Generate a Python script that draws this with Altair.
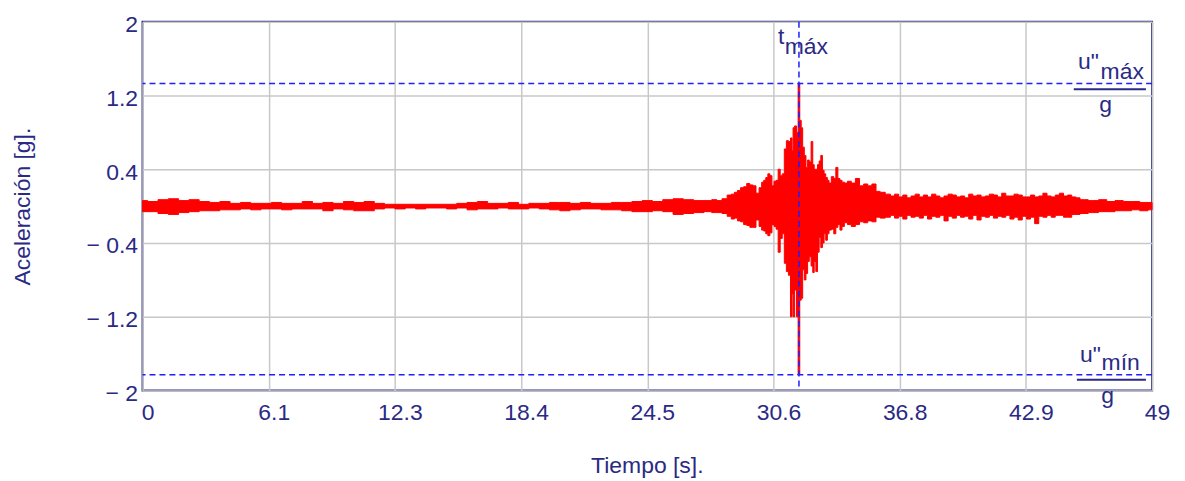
import altair as alt
import pandas as pd

# ---------------- data ----------------
# time [s] of envelope samples, upper and lower acceleration [g]
t_quiet = [0, 0.5, 1.0, 1.5, 2.0, 2.5, 3.0, 3.5, 4.0, 4.5, 5.0, 5.5, 6.0, 6.5, 7.0, 7.5, 8.0, 8.5, 9.0, 9.5,
           10.0, 10.5, 11.0, 11.5, 12.0, 12.5, 13.0, 13.5, 14.0, 14.5, 15.0, 15.5, 16.0, 16.5, 17.0, 17.5, 18.0, 18.5, 19.0, 19.5,
           20.0, 20.5, 21.0, 21.5, 22.0, 22.5, 23.0, 23.5, 24.0, 24.5, 25.0, 25.5, 26.0, 26.5, 27.0]
hi_quiet = [0.06, 0.05, 0.07, 0.08, 0.06, 0.07, 0.05, 0.04, 0.05, 0.03, 0.04, 0.03, 0.03, 0.04, 0.03, 0.03, 0.05, 0.03, 0.04, 0.03,
            0.05, 0.04, 0.05, 0.03, 0.02, 0.02, 0.02, 0.02, 0.02, 0.02, 0.02, 0.03, 0.04, 0.05, 0.03, 0.03, 0.04, 0.02, 0.03, 0.03,
            0.04, 0.04, 0.03, 0.04, 0.03, 0.03, 0.04, 0.04, 0.05, 0.06, 0.05, 0.07, 0.08, 0.07, 0.06]
lo_quiet = [-0.06, -0.06, -0.08, -0.09, -0.07, -0.06, -0.05, -0.05, -0.04, -0.04, -0.03, -0.04, -0.03, -0.03, -0.04, -0.03, -0.03, -0.03, -0.05, -0.03,
            -0.04, -0.05, -0.05, -0.03, -0.02, -0.03, -0.02, -0.03, -0.02, -0.02, -0.03, -0.02, -0.04, -0.03, -0.03, -0.02, -0.03, -0.03, -0.02, -0.03,
            -0.04, -0.05, -0.04, -0.03, -0.03, -0.04, -0.04, -0.05, -0.06, -0.06, -0.05, -0.06, -0.09, -0.08, -0.07]

t_strong = [27.5, 27.75, 28.0, 28.25, 28.5, 28.65, 28.8, 28.95, 29.1, 29.25, 29.4, 29.55, 29.7, 29.85,
            30.0, 30.1, 30.2, 30.3, 30.4, 30.5, 30.6, 30.7, 30.8, 30.9, 31.0, 31.1, 31.2, 31.3, 31.4, 31.5,
            31.55, 31.6, 31.7, 31.78, 31.86, 31.94, 32.0, 32.08, 32.16, 32.24, 32.32, 32.4, 32.5, 32.56, 32.64,
            32.72, 32.8, 32.88, 32.96, 33.04, 33.12, 33.2, 33.28, 33.36, 33.5, 33.6, 33.7, 33.8, 33.9, 34.0,
            34.13, 34.3, 34.5, 34.7, 34.9, 35.1, 35.3, 35.5, 35.7, 35.9]
hi_strong = [0.06, 0.07, 0.06, 0.08, 0.12, 0.13, 0.15, 0.17, 0.20, 0.21, 0.245, 0.23, 0.22, 0.14,
             0.20, 0.26, 0.28, 0.31, 0.35, 0.33, 0.22, 0.27, 0.28, 0.40, 0.33, 0.35, 0.62, 0.71, 0.70, 0.74,
             0.60, 0.85, 0.87, 0.80, 1.33, 0.93, 0.85, 0.64, 0.55, 0.42, 0.50, 0.48, 0.70, 0.45, 0.40,
             0.40, 0.45, 0.49, 0.55, 0.39, 0.35, 0.31, 0.28, 0.25, 0.32, 0.30, 0.42, 0.30, 0.28, 0.26,
             0.25, 0.27, 0.25, 0.30, 0.22, 0.24, 0.22, 0.24, 0.16, 0.15]
lo_strong = [-0.06, -0.07, -0.07, -0.08, -0.11, -0.14, -0.13, -0.16, -0.17, -0.20, -0.21, -0.23, -0.23, -0.15,
             -0.22, -0.26, -0.27, -0.30, -0.32, -0.29, -0.20, -0.22, -0.25, -0.50, -0.35, -0.30, -0.62, -0.71, -0.75, -1.20,
             -0.95, -1.20, -0.91, -1.20, -1.83, -1.02, -1.00, -0.69, -0.80, -0.73, -0.60, -0.55, -0.65, -0.72, -0.60,
             -0.71, -0.50, -0.34, -0.45, -0.40, -0.30, -0.37, -0.30, -0.26, -0.25, -0.30, -0.23, -0.20, -0.26, -0.22,
             -0.18, -0.20, -0.22, -0.20, -0.17, -0.18, -0.16, -0.17, -0.12, -0.13]

t_tail = [36.2, 36.4, 36.6, 36.8, 37.0, 37.2, 37.4, 37.6, 37.8, 38.0, 38.2, 38.4, 38.6, 38.8, 39.0, 39.2, 39.4, 39.6, 39.8,
          40.0, 40.2, 40.4, 40.6, 40.8, 41.0, 41.2, 41.4, 41.6, 41.8, 42.0, 42.2, 42.4, 42.6, 42.8, 43.0, 43.2, 43.4, 43.6, 43.8,
          44.0, 44.2, 44.4, 44.6, 44.8, 45.0, 45.2, 45.4, 45.6, 45.8, 46.0, 46.2,
          46.6, 47.0, 47.4, 47.8, 48.2, 48.6, 49.0]
hi_tail = [0.13, 0.11, 0.13, 0.10, 0.12, 0.09, 0.11, 0.13, 0.10, 0.12, 0.10, 0.13, 0.11, 0.09, 0.11, 0.13, 0.12, 0.10, 0.11,
           0.09, 0.13, 0.11, 0.12, 0.10, 0.11, 0.13, 0.12, 0.10, 0.14, 0.11, 0.11, 0.13, 0.12, 0.10, 0.10, 0.12, 0.10, 0.11, 0.14,
           0.11, 0.10, 0.12, 0.14, 0.11, 0.12, 0.10, 0.09, 0.07, 0.07, 0.06, 0.06,
           0.07, 0.05, 0.06, 0.05, 0.05, 0.04, 0.04]
lo_tail = [-0.12, -0.10, -0.13, -0.11, -0.14, -0.10, -0.12, -0.11, -0.13, -0.10, -0.14, -0.11, -0.12, -0.10, -0.16, -0.11, -0.13, -0.10, -0.12,
           -0.11, -0.14, -0.10, -0.15, -0.11, -0.12, -0.10, -0.13, -0.11, -0.12, -0.10, -0.14, -0.12, -0.15, -0.11, -0.14, -0.12, -0.19, -0.11, -0.12,
           -0.10, -0.12, -0.10, -0.10, -0.12, -0.12, -0.09, -0.09, -0.08, -0.08, -0.07, -0.07,
           -0.06, -0.06, -0.05, -0.05, -0.04, -0.05, -0.04]

# reference values
u_max = 1.33
u_min = -1.83
t_max = 31.86

x_ticks = [0, 6.125, 12.25, 18.375, 24.5, 30.625, 36.75, 42.875, 49]
y_ticks = [-2, -1.2, -0.4, 0.4, 1.2, 2]
x_title = "Tiempo [s]."
y_title = "Aceleración [g]."

# annotation texts
ann_left_text = ["t", 'u"', 'u"']
ann_left_x = [30.84, 45.4, 45.5]
ann_left_y = [1.76, 1.49, -1.69]
ann_g_text = ["g", "g"]
ann_g_x = [46.74, 46.84]
ann_g_y = [1.02, -2.14]
ann_sub_text = ["máx", "máx", "mín"]
ann_sub_x = [31.17, 46.5, 46.55]
ann_sub_y = [1.651, 1.381, -1.776]
bar_x1 = [45.2, 45.35]
bar_x2 = [48.7, 48.7]
bar_y = [1.269, -1.884]

# ---------------- chart ----------------
NAVY = "#2a2a85"
BLUE = "#1f1fff"
FONT = "Liberation Sans"

sig = pd.DataFrame({
    "t": t_quiet + t_strong + t_tail,
    "hi": hi_quiet + hi_strong + hi_tail,
    "lo": lo_quiet + lo_strong + lo_tail,
})

xscale = alt.Scale(domain=[0, 49], nice=False, zero=False)
yscale = alt.Scale(domain=[-2, 2], nice=False, zero=False)


def X(field):
    return alt.X(field, scale=xscale, title=x_title)


def Y(field):
    return alt.Y(field, scale=yscale, title=y_title)


area = alt.Chart(sig).mark_area(
    color="#ff0000", stroke="#ff0000", strokeWidth=1, interpolate="step", opacity=1
).encode(
    x=alt.X("t:Q", scale=xscale, title=x_title, axis=alt.Axis(
        values=x_ticks, format=".1~f", labelFlush=False, labelOverlap=False,
        ticks=False, domain=False, labelPadding=8,
        titleX=506, titleY=75, titleBaseline="middle")),
    y=alt.Y("hi:Q", scale=yscale, title=y_title, axis=alt.Axis(
        values=y_ticks, ticks=False, domain=False, labelPadding=10,
        labelOverlap=False,
        labelExpr="datum.value < 0 ? '\u2212 ' + format(-datum.value, '~g') : format(datum.value, '~g')",
        titleX=-120, titleY=185, titleAngle=270, titleBaseline="middle", titleAlign="center")),
    y2="lo:Q",
)

hl = alt.Chart(pd.DataFrame({"y": [u_max, u_min]})).mark_rule(
    color=BLUE, strokeDash=[6, 4], strokeWidth=1.5
).encode(y=Y("y:Q"))

vl = alt.Chart(pd.DataFrame({"t": [t_max]})).mark_rule(
    color=BLUE, strokeDash=[6, 4], strokeWidth=1.5
).encode(x=X("t:Q"))

bars = alt.Chart(pd.DataFrame({"x1": bar_x1, "x2": bar_x2, "y": bar_y})).mark_rule(
    color=NAVY, strokeWidth=2
).encode(x=X("x1:Q"), x2="x2:Q", y=Y("y:Q"))

left_txt = alt.Chart(pd.DataFrame({"txt": ann_left_text, "x": ann_left_x, "y": ann_left_y})).mark_text(
    font=FONT, fontSize=23, color=NAVY, baseline="alphabetic", align="left"
).encode(x=X("x:Q"), y=Y("y:Q"), text="txt:N")

g_txt = alt.Chart(pd.DataFrame({"txt": ann_g_text, "x": ann_g_x, "y": ann_g_y})).mark_text(
    font=FONT, fontSize=23, color=NAVY, baseline="alphabetic", align="center"
).encode(x=X("x:Q"), y=Y("y:Q"), text="txt:N")

sub = alt.Chart(pd.DataFrame({"txt": ann_sub_text, "x": ann_sub_x, "y": ann_sub_y})).mark_text(
    font=FONT, fontSize=23, color=NAVY, baseline="alphabetic", align="left"
).encode(x=X("x:Q"), y=Y("y:Q"), text="txt:N")

chart = alt.layer(area, hl, vl, bars, left_txt, g_txt, sub).properties(
    width=1013, height=370,
    padding={"left": 135, "top": 13, "right": 25, "bottom": 88},
    autosize=alt.AutoSizeParams(type="none"),
).configure(
    style={"guide-label": {"dx": 5, "dy": 3}}
).configure_view(
    stroke=NAVY, strokeWidth=2
).configure_axis(
    labelFont=FONT, titleFont=FONT, labelFontSize=23, titleFontSize=23,
    labelColor=NAVY, titleColor=NAVY, titleFontWeight="normal",
    gridColor="#c8c8c8", gridWidth=1.5, gridOpacity=1,
)

chart.save("out.html", embed_options={"renderer": "svg", "actions": False})
